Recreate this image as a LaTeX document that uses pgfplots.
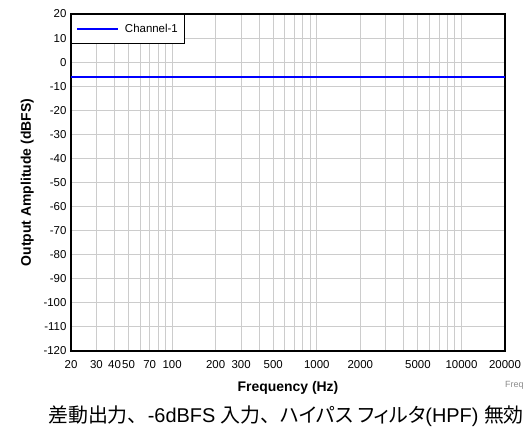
\documentclass[border=0pt]{standalone}
\usepackage{pgfplots}
\pgfplotsset{compat=1.18}
\usepackage{fontspec}
\setmainfont{Liberation Sans}
\newfontfamily\cjk{Noto Sans CJK JP}
\newfontfamily\cjkp[RawFeature=+palt]{Noto Sans CJK JP}
\definecolor{gridgray}{RGB}{204,204,204}
\begin{document}
\begin{tikzpicture}
\useasboundingbox (0,0) rectangle (531bp,-430bp);
\begin{axis}[
  at={(71bp,-351bp)}, anchor=south west,
  scale only axis, width=434bp, height=337bp,
  xmode=log, log basis x=10,
  xmin=20, xmax=20000, ymin=-120, ymax=20,
  xtick={20,30,40,50,70,100,200,300,500,1000,2000,5000,10000,20000},
  xticklabels={20,30,40\hspace{-2bp},50,70,100,200,300,500,1000,2000,5000,10000,20000},
  minor xtick={60,80,90,400,600,700,800,900,3000,4000,6000,7000,8000,9000},
  ytick={-120,-110,...,20},
  grid=both,
  major grid style={gridgray, line width=1bp},
  minor grid style={gridgray, line width=1bp},
  major tick length=0pt, minor tick length=0pt,
  axis line style={black, line width=1.5bp},
  tick label style={font=\fontsize{11.5}{13}\selectfont},
  /pgf/number format/assume math mode=true,
  /pgf/number format/.cd, 1000 sep={}, /pgfplots/.cd,
  xticklabel style={yshift=-6bp},
  yticklabel style={xshift=-1bp},
  xlabel={\bfseries Frequency (Hz)},
  ylabel={\bfseries Output Amplitude (dBFS)},
  label style={font=\fontsize{14}{16}\selectfont},
  xlabel style={yshift=-6bp},
  ylabel style={yshift=3bp},
  legend style={at={(0,1)}, anchor=north west, draw=black, line width=1.2bp,
    font=\fontsize{11.5}{13}\selectfont, inner xsep=5bp, inner ysep=7.5bp, row sep=0pt},
  legend cell align=left,
  legend image code/.code={\draw[#1, line width=1.3bp] (0bp,0bp) -- (41bp,0bp); \path (45bp,0bp);},
]
\addplot[blue, line width=1.5bp] coordinates {(20,-6.2) (100,-6.2) (1000,-6.2) (10000,-6.2) (20000,-6.2)};
\addlegendentry{Channel-1}
\end{axis}
\node[anchor=west, inner sep=0pt, text=black!45, font=\fontsize{9}{10}\selectfont] at (505bp,-385bp) {Freq};
\node[anchor=west, inner sep=0pt, font=\fontsize{20}{22}\selectfont] at (48bp,-416bp) {{\cjk 差動出力、}-6dBFS {\cjk 入力、}{\cjkp ハイパス フィルタ}(HPF) {\cjk 無効}};
\end{tikzpicture}
\end{document}
